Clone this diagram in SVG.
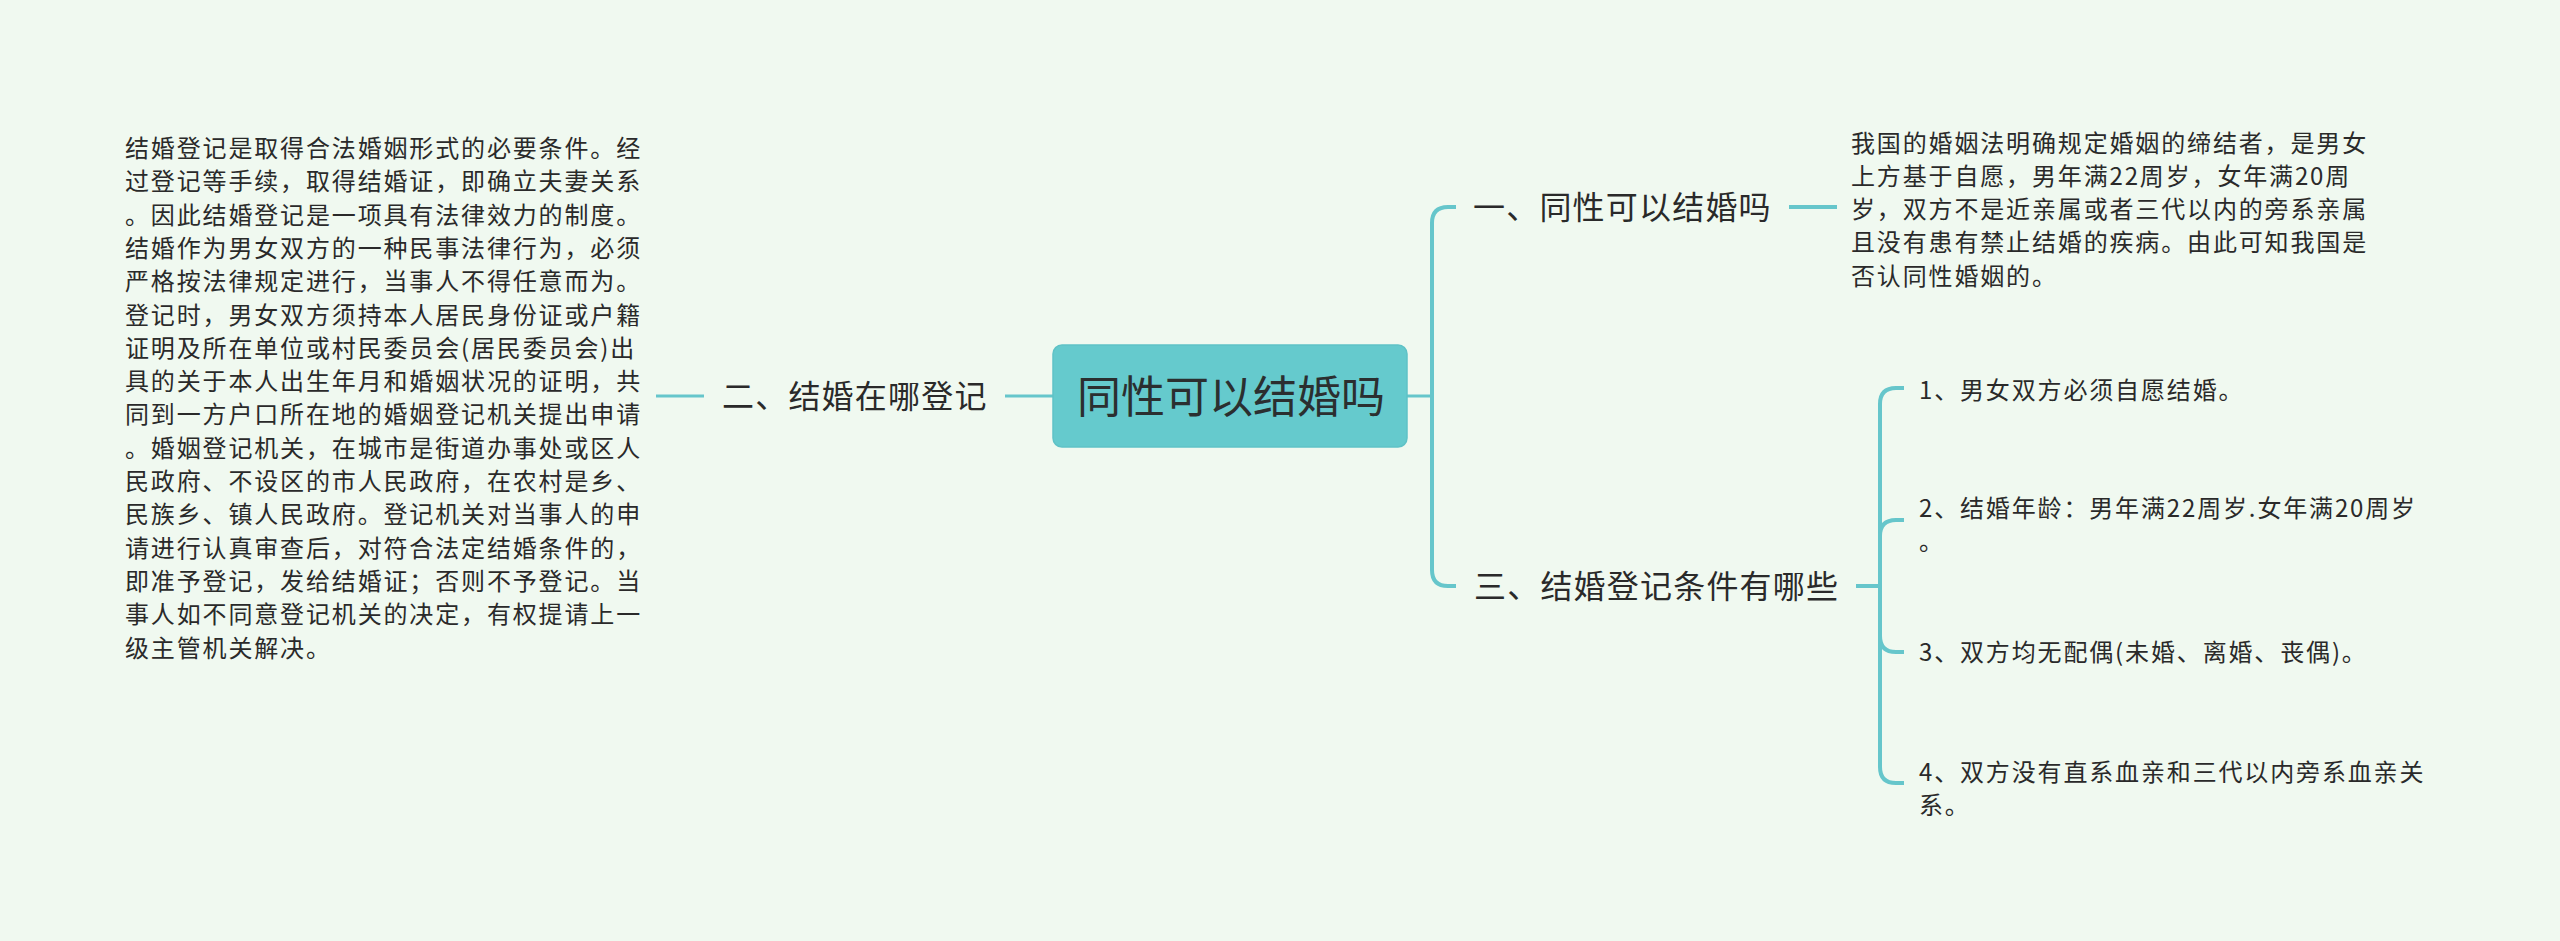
<svg xmlns="http://www.w3.org/2000/svg" width="2560" height="941" viewBox="0 0 2560 941">
<style>
.bg{fill:#f0f9f0}
.ln{fill:none;stroke:#66c6cb;stroke-width:4;stroke-linecap:butt}
.ln3{fill:none;stroke:#66c6cb;stroke-width:3}
.t{font-family:"Noto Sans CJK SC","Noto Sans",sans-serif;fill:#2a2a2a}
.body{font-size:24px;letter-spacing:1.85px}
.br{font-size:32px;letter-spacing:1.2px}
.title{font-size:44px;fill:#2b2f30}
</style>
<rect class="bg" x="0" y="0" width="2560" height="941"/>
<g id="connectors">
<path class="ln3" d="M656 396 H704"/>
<path class="ln3" d="M1005 396 H1053"/>
<path class="ln3" d="M1407 396 H1432"/>
<path class="ln" d="M1432 398 V223 Q1432 207 1448 207 H1456"/>
<path class="ln" d="M1432 394 V570 Q1432 586 1448 586 H1456"/>
<path class="ln" d="M1789 207 H1837"/>
<path class="ln" d="M1856 586 H1880"/>
<path class="ln" d="M1880 588 V404 Q1880 388 1896 388 H1904"/>
<path class="ln" d="M1880 588 V536 Q1880 520 1896 520 H1904"/>
<path class="ln" d="M1880 584 V636 Q1880 652 1896 652 H1904"/>
<path class="ln" d="M1880 584 V767 Q1880 783 1896 783 H1904"/>
</g>
<g id="root">
<rect x="1053" y="345" width="354" height="102" rx="9" ry="9" fill="#65cacd" stroke="#5fc2c6" stroke-width="1.5"/>
<text class="t title" x="1231" y="413" text-anchor="middle">同性可以结婚吗</text>
</g>
<g id="n2">
<text class="t br" x="722" y="408">二、结婚在哪登记</text>
</g>
<g id="n2-text">
<text class="t body" x="125" y="157">结婚登记是取得合法婚姻形式的必要条件。经</text>
<text class="t body" x="125" y="190.3">过登记等手续，取得结婚证，即确立夫妻关系</text>
<text class="t body" x="125" y="223.6">。因此结婚登记是一项具有法律效力的制度。</text>
<text class="t body" x="125" y="256.9">结婚作为男女双方的一种民事法律行为，必须</text>
<text class="t body" x="125" y="290.2">严格按法律规定进行，当事人不得任意而为。</text>
<text class="t body" x="125" y="323.5">登记时，男女双方须持本人居民身份证或户籍</text>
<text class="t body" x="125" y="356.8">证明及所在单位或村民委员会(居民委员会)出</text>
<text class="t body" x="125" y="390.1">具的关于本人出生年月和婚姻状况的证明，共</text>
<text class="t body" x="125" y="423.4">同到一方户口所在地的婚姻登记机关提出申请</text>
<text class="t body" x="125" y="456.7">。婚姻登记机关，在城市是街道办事处或区人</text>
<text class="t body" x="125" y="490">民政府、不设区的市人民政府，在农村是乡、</text>
<text class="t body" x="125" y="523.3">民族乡、镇人民政府。登记机关对当事人的申</text>
<text class="t body" x="125" y="556.6">请进行认真审查后，对符合法定结婚条件的，</text>
<text class="t body" x="125" y="589.9">即准予登记，发给结婚证；否则不予登记。当</text>
<text class="t body" x="125" y="623.2">事人如不同意登记机关的决定，有权提请上一</text>
<text class="t body" x="125" y="656.5">级主管机关解决。</text>
</g>
<g id="n1">
<text class="t br" x="1473" y="219">一、同性可以结婚吗</text>
</g>
<g id="n1-text">
<text class="t body" x="1851" y="151.5">我国的婚姻法明确规定婚姻的缔结者，是男女</text>
<text class="t body" x="1851" y="184.8">上方基于自愿，男年满22周岁，女年满20周</text>
<text class="t body" x="1851" y="218.1">岁，双方不是近亲属或者三代以内的旁系亲属</text>
<text class="t body" x="1851" y="251.4">且没有患有禁止结婚的疾病。由此可知我国是</text>
<text class="t body" x="1851" y="284.7">否认同性婚姻的。</text>
</g>
<g id="n3">
<text class="t br" x="1474" y="598">三、结婚登记条件有哪些</text>
</g>
<g id="n3-1">
<text class="t body" x="1919" y="399">1、男女双方必须自愿结婚。</text>
</g>
<g id="n3-2">
<text class="t body" x="1919" y="517">2、结婚年龄：男年满22周岁.女年满20周岁</text>
<text class="t body" x="1919" y="550.3">。</text>
</g>
<g id="n3-3">
<text class="t body" x="1919" y="661">3、双方均无配偶(未婚、离婚、丧偶)。</text>
</g>
<g id="n3-4">
<text class="t body" x="1919" y="781">4、双方没有直系血亲和三代以内旁系血亲关</text>
<text class="t body" x="1919" y="814.3">系。</text>
</g>
</svg>
